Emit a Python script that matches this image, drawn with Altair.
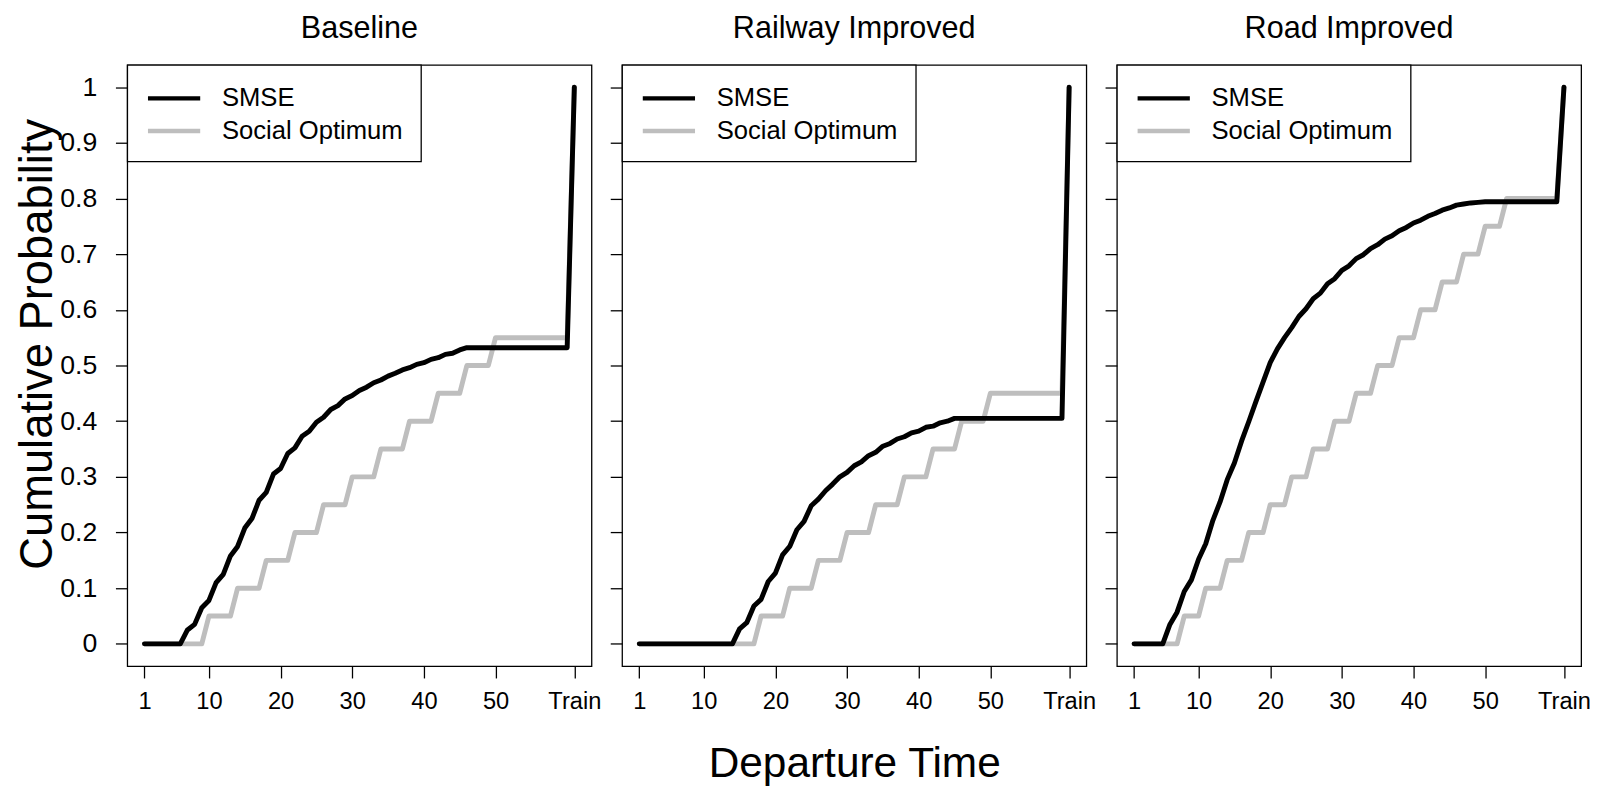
import altair as alt
import pandas as pd

# ---------------- data ----------------
x_vals = list(range(1, 62))          # 61 is the "Train" position
x_ticks = [1, 10, 20, 30, 40, 50, 61]
y_ticks = [0, 0.1, 0.2, 0.3, 0.4, 0.5, 0.6, 0.7, 0.8, 0.9, 1]
panel_titles = ["Baseline", "Railway Improved", "Road Improved"]
series_names = ["SMSE", "Social Optimum"]
series_colors = ["#000000", "#BEBEBE"]

baseline_smse = [0, 0, 0, 0, 0, 0,
                 0.025, 0.035, 0.065, 0.078, 0.110, 0.125, 0.158, 0.175, 0.208, 0.225,
                 0.258, 0.272, 0.305, 0.315, 0.342, 0.352, 0.373, 0.382, 0.398, 0.407,
                 0.421, 0.428, 0.440, 0.446, 0.455, 0.461, 0.469, 0.474, 0.481, 0.486,
                 0.492, 0.496, 0.502, 0.505, 0.511, 0.514, 0.520, 0.522, 0.528, 0.532,
                 0.532, 0.532, 0.532, 0.532, 0.532, 0.532, 0.532, 0.532, 0.532, 0.532,
                 0.532, 0.532, 0.532, 0.532,
                 1.0]
baseline_social = [0, 0, 0, 0, 0, 0, 0, 0, 0,
                   0.05, 0.05, 0.05, 0.05, 0.10, 0.10, 0.10, 0.10,
                   0.15, 0.15, 0.15, 0.15, 0.20, 0.20, 0.20, 0.20,
                   0.25, 0.25, 0.25, 0.25, 0.30, 0.30, 0.30, 0.30,
                   0.35, 0.35, 0.35, 0.35, 0.40, 0.40, 0.40, 0.40,
                   0.45, 0.45, 0.45, 0.45, 0.50, 0.50, 0.50, 0.50,
                   0.55, 0.55, 0.55, 0.55, 0.55, 0.55, 0.55, 0.55, 0.55, 0.55, 0.55,
                   1.0]

railway_smse = [0, 0, 0, 0, 0, 0, 0, 0, 0, 0, 0, 0, 0, 0,
                0.027, 0.038, 0.068, 0.080, 0.112, 0.127, 0.160, 0.175, 0.205, 0.220,
                0.248, 0.260, 0.275, 0.287, 0.300, 0.308, 0.320, 0.327, 0.338, 0.344,
                0.355, 0.360, 0.368, 0.372, 0.379, 0.382, 0.389, 0.391, 0.397, 0.400,
                0.405,
                0.405, 0.405, 0.405, 0.405, 0.405, 0.405, 0.405, 0.405, 0.405, 0.405,
                0.405, 0.405, 0.405, 0.405, 0.405,
                1.0]
railway_social = [0, 0, 0, 0, 0, 0, 0, 0, 0, 0, 0, 0, 0, 0, 0, 0, 0,
                  0.05, 0.05, 0.05, 0.05, 0.10, 0.10, 0.10, 0.10,
                  0.15, 0.15, 0.15, 0.15, 0.20, 0.20, 0.20, 0.20,
                  0.25, 0.25, 0.25, 0.25, 0.30, 0.30, 0.30, 0.30,
                  0.35, 0.35, 0.35, 0.35, 0.40, 0.40, 0.40, 0.40,
                  0.45, 0.45, 0.45, 0.45, 0.45, 0.45, 0.45, 0.45, 0.45, 0.45, 0.45,
                  1.0]

road_smse = [0, 0, 0, 0, 0,
             0.035, 0.057, 0.094, 0.115, 0.152, 0.180, 0.222, 0.255, 0.295, 0.325,
             0.364, 0.399, 0.435, 0.470, 0.505, 0.530, 0.550, 0.568, 0.588, 0.602,
             0.620, 0.630, 0.647, 0.656, 0.671, 0.679, 0.692, 0.699, 0.710, 0.717,
             0.727, 0.733, 0.742, 0.748, 0.756, 0.761, 0.768, 0.773, 0.779, 0.783,
             0.788, 0.790, 0.792, 0.793, 0.794,
             0.794, 0.794, 0.794, 0.794, 0.794, 0.794, 0.794, 0.794, 0.794, 0.794,
             1.0]
road_social = [0, 0, 0, 0, 0, 0, 0,
               0.05, 0.05, 0.05, 0.10, 0.10, 0.10, 0.15, 0.15, 0.15,
               0.20, 0.20, 0.20, 0.25, 0.25, 0.25, 0.30, 0.30, 0.30,
               0.35, 0.35, 0.35, 0.40, 0.40, 0.40, 0.45, 0.45, 0.45,
               0.50, 0.50, 0.50, 0.55, 0.55, 0.55, 0.60, 0.60, 0.60,
               0.65, 0.65, 0.65, 0.70, 0.70, 0.70, 0.75, 0.75, 0.75,
               0.80, 0.80, 0.80, 0.80, 0.80, 0.80, 0.80, 0.80,
               1.0]

FONT = "Liberation Sans"
W, H = 471, 610


def panel(title, smse, social, first, middle):
    df = pd.DataFrame({
        "t": x_vals + x_vals,
        "p": smse + social,
        "series": [series_names[0]] * len(x_vals) + [series_names[1]] * len(x_vals),
    })
    x_axis_kw = dict(values=x_ticks,
                     labelExpr="datum.value == 61 ? 'Train' : datum.label",
                     labelFontSize=24, labelPadding=12, labelFlush=False)
    if middle:
        x_axis = alt.Axis(title="Departure Time", titleFontSize=43,
                          titleBaseline="alphabetic", titleAlign="center",
                          titleX=W / 2, titleY=112, **x_axis_kw)
    else:
        x_axis = alt.Axis(title=None, **x_axis_kw)
    if first:
        y_axis = alt.Axis(values=y_ticks, format=".1~f", labelFontSize=27,
                          labelPadding=19, title="Cumulative Probability",
                          titleFontSize=46, titleAngle=270, titleAlign="center",
                          titleBaseline="alphabetic", titleX=-77, titleY=283)
    else:
        y_axis = alt.Axis(values=y_ticks, labels=False, title=None)

    base = alt.Chart(df).encode(
        x=alt.X("t:Q", scale=alt.Scale(domain=[-1.4, 63.4], nice=False, zero=False), axis=x_axis),
        y=alt.Y("p:Q", scale=alt.Scale(domain=[-0.04, 1.04], nice=False, zero=False), axis=y_axis),
        color=alt.Color("series:N",
                        scale=alt.Scale(domain=series_names, range=series_colors),
                        legend=alt.Legend(title=None, orient="top-left", offset=0,
                                          symbolType="M-0.945,0H2.909", symbolSize=756.25,
                                          symbolStrokeWidth=4.5, labelFontSize=26,
                                          labelFont=FONT, labelColor="black",
                                          labelLimit=400, labelOffset=46,
                                          padding=18, rowPadding=4,
                                          strokeColor="black", fillColor="white")),
    )
    gray = base.transform_filter(f"datum.series == '{series_names[1]}'").mark_line(
        strokeWidth=5, strokeCap="round", strokeJoin="round")
    black = base.transform_filter(f"datum.series == '{series_names[0]}'").mark_line(
        strokeWidth=5, strokeCap="round", strokeJoin="round")
    return alt.layer(gray, black).properties(
        width=W, height=H,
        title=alt.TitleParams(text=title, fontSize=31, font=FONT, fontWeight="normal",
                              color="black", baseline="alphabetic", offset=-4))


p1 = panel(panel_titles[0], baseline_smse, baseline_social, True, False)
p2 = panel(panel_titles[1], railway_smse, railway_social, False, True)
p3 = panel(panel_titles[2], road_smse, road_social, False, False)

chart = (
    alt.hconcat(p1, p2, p3, spacing=6)
    .resolve_scale(color="independent")
    .properties(padding={"left": 6, "top": -2, "right": 0, "bottom": 0}, background="white")
    .configure_view(stroke="black", strokeWidth=1.3)
    .configure_axis(grid=False, domain=False, tickColor="black", tickWidth=1.3,
                    tickSize=12, labelColor="black", labelFont=FONT,
                    titleFont=FONT, titleColor="black", titleFontWeight="normal")
    .configure_legend(strokeWidth=1.3)
)

chart.save("out.html", embed_options={"renderer": "svg", "actions": False})
